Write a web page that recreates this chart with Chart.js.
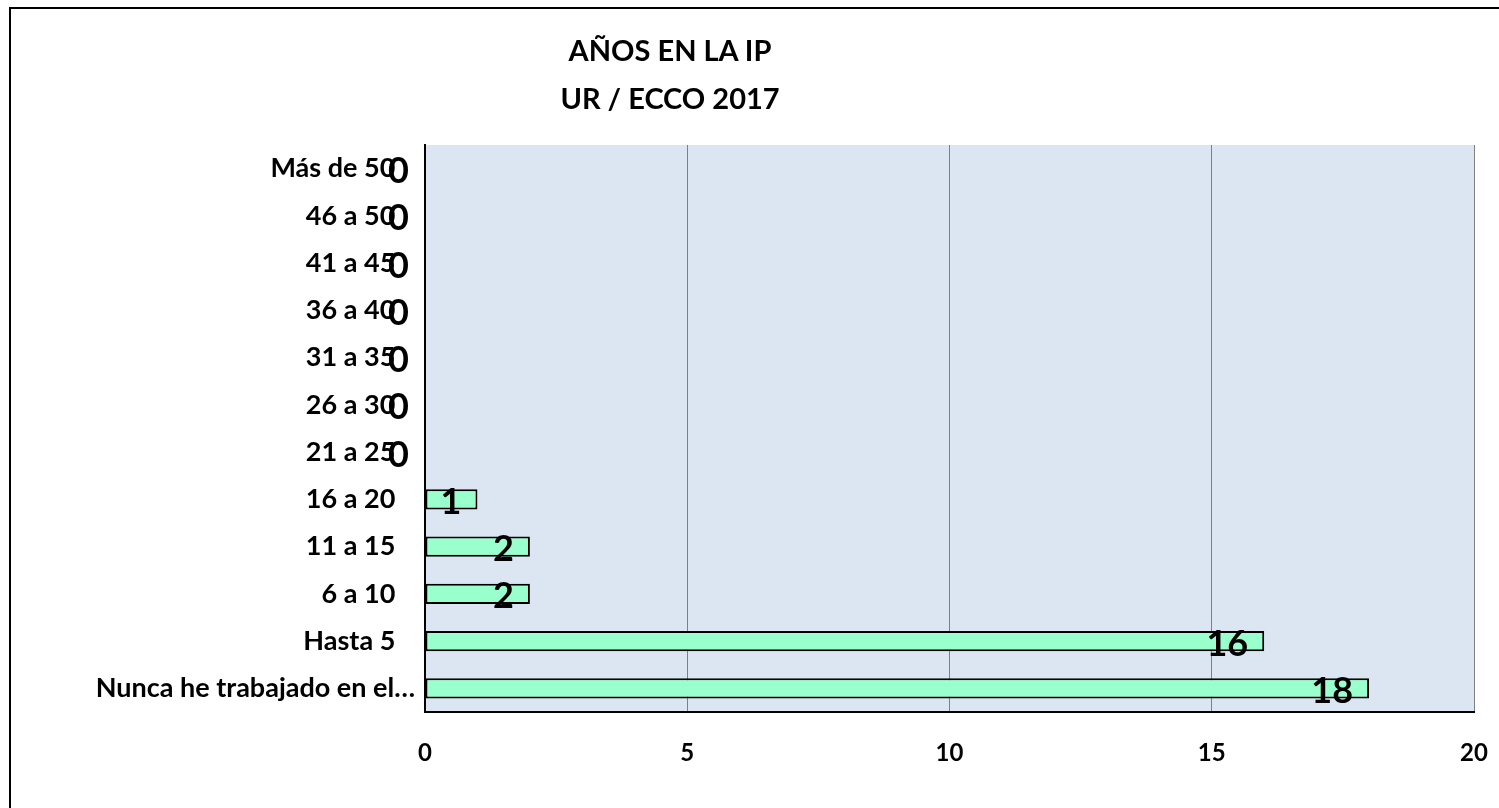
<!DOCTYPE html>
<html>
<head>
<meta charset="utf-8">
<script src="https://cdn.jsdelivr.net/npm/chart.js@4.4.1/dist/chart.umd.min.js"></script>
<style>
  html, body { margin: 0; padding: 0; background: #fff; overflow: hidden; }
  #wrap { position: relative; width: 1499px; height: 808px; }
  #frame { position: absolute; left: 9px; top: 7px; width: 1600px; height: 900px; border: 2px solid #000; }
  #title { position: absolute; left: 470px; width: 400px; top: 26px; text-align: center;
           font-family: Lato, "Open Sans", sans-serif; font-weight: bold; font-size: 29px; line-height: 48px; color: #000; }
  canvas { position: absolute; left: 0; top: 0; }
</style>
</head>
<body>
<div id="wrap">
  <div id="frame"></div>
  <canvas id="chart" width="1499" height="808"></canvas>
  <div id="title">AÑOS EN LA IP<br>UR / ECCO 2017</div>
</div>
<script>
const categories = ["Más de 50   ", "46 a 50   ", "41 a 45   ", "36 a 40   ", "31 a 35   ", "26 a 30   ", "21 a 25   ", "16 a 20   ", "11 a 15   ", "6 a 10   ", "Hasta 5   ", "Nunca he trabajado en el…"];
const respuestas = [0, 0, 0, 0, 0, 0, 0, 1, 2, 2, 16, 18];
const xTicks = [0, 5, 10, 15, 20];

const plotBackground = {
  id: "plotBackground",
  beforeDraw(chart) {
    const { ctx, chartArea } = chart;
    ctx.save();
    ctx.fillStyle = "#dce6f2";
    ctx.fillRect(chartArea.left, chartArea.top, chartArea.right - chartArea.left, chartArea.bottom - chartArea.top);
    ctx.restore();
  }
};

const valueLabels = {
  id: "valueLabels",
  afterDatasetsDraw(chart) {
    const { ctx } = chart;
    const meta = chart.getDatasetMeta(0);
    ctx.save();
    ctx.font = "bold 36px Lato, 'Open Sans', sans-serif";
    ctx.fillStyle = "#000";
    ctx.textAlign = "right";
    ctx.textBaseline = "middle";
    meta.data.forEach((bar, i) => {
      ctx.fillText(String(respuestas[i]), bar.x - 16, bar.y + 3);
    });
    ctx.restore();
  }
};

const ctx = document.getElementById("chart").getContext("2d");
window.yearsChart = new Chart(ctx, {
  type: "bar",
  data: {
    labels: categories,
    datasets: [
      {
        label: "AÑOS EN LA IP",
        data: respuestas,
        backgroundColor: "#99ffcc",
        borderColor: "#000",
        borderWidth: 2,
        borderSkipped: false,
        categoryPercentage: 0.85,
        barPercentage: 0.5,
      },
    ],
  },
  options: {
    indexAxis: "y",
    responsive: false,
    animation: false,
    layout: { padding: { left: 0, right: 25, top: 145, bottom: 36 } },
    plugins: {
      legend: { display: false },
      title: { display: false },
      tooltip: { enabled: false },
    },
    scales: {
      x: {
        min: 0,
        max: 20,
        afterBuildTicks(scale) {
          scale.ticks = xTicks.map((v) => ({ value: v }));
        },
        afterFit(scale) {
          scale.height = 60;
          scale.paddingLeft = 0;
          scale.paddingRight = 0;
        },
        grid: { color: "#808080", lineWidth: 1, drawTicks: false },
        border: { color: "#000", width: 2 },
        ticks: {
          padding: 27,
          color: "#000",
          font: { family: "Lato, 'Open Sans', sans-serif", weight: "bold", size: 24 },
        },
      },
      y: {
        afterFit(scale) { scale.width = 425; },
        grid: { display: false, drawTicks: false },
        border: { color: "#000", width: 2 },
        ticks: {
          padding: 10,
          color: "#000",
          autoSkip: false,
          font: { family: "Lato, 'Open Sans', sans-serif", weight: "bold", size: 27 },
        },
      },
    },
  },
  plugins: [plotBackground, valueLabels],
});
</script>
</body>
</html>
